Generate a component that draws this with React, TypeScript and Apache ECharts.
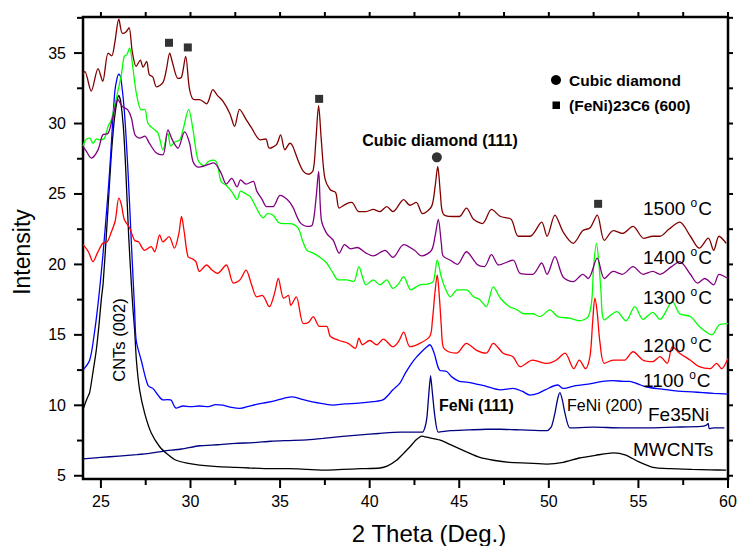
import React, { useEffect, useRef } from "react";
import * as echarts from "echarts";

const FONT = "Arial, 'Liberation Sans', sans-serif";

// axis ranges (2 theta in degrees, intensity in arbitrary units)
const THETA_MIN = 24;
const THETA_MAX = 60;
const INT_MIN = 4.77;
const INT_MAX = 37.56;

// plot box inside the 739 x 546 canvas
const GRID_LEFT = 83;
const GRID_TOP = 17;
const GRID_RIGHT = 11;
const GRID_BOTTOM = 67;
const CANVAS_W = 739;
const CANVAS_H = 546;

const thetaMajor = [25, 30, 35, 40, 45, 50, 55, 60];
const thetaMinor = [27.5, 32.5, 37.5, 42.5, 47.5, 52.5, 57.5];
const intensityMajor = [5, 10, 15, 20, 25, 30, 35];
const intensityMinor = [7.5, 12.5, 17.5, 22.5, 27.5, 32.5, 37.5];

// diffraction patterns: [2 theta, intensity]
const mwcnts = [
  [24.0, 9.7], [24.2, 10.4], [24.37, 10.9], [24.55, 12.3], [24.74, 13.9], [24.9, 15.8], [25.02, 17.5],
  [25.12, 18.6], [25.3, 22.0], [25.56, 27.4], [25.75, 30.3], [25.9, 31.6], [26.0, 32.0], [26.1, 31.6],
  [26.25, 29.8], [26.38, 26.9], [26.55, 22.0], [26.7, 18.6], [26.79, 16.8], [26.88, 15.4], [26.98, 13.2],
  [27.16, 11.1], [27.44, 9.45], [27.81, 8.03], [28.28, 7.06], [28.7, 6.55], [29.2, 6.1], [29.8, 5.9],
  [30.5, 5.76], [31.5, 5.65], [32.5, 5.6], [33.3, 5.55], [34.5, 5.5], [35.5, 5.5], [36.5, 5.45],
  [37.6, 5.4], [38.5, 5.45], [39.5, 5.5], [40.57, 5.55], [41.0, 5.7], [41.5, 6.1], [41.9, 6.6],
  [42.25, 7.06], [42.6, 7.55], [42.9, 7.82], [43.3, 7.7], [43.9, 7.54], [44.6, 7.15], [45.4, 6.7],
  [46.15, 6.3], [46.9, 6.1], [47.8, 5.95], [48.8, 5.9], [49.9, 5.83], [50.8, 5.95], [51.7, 6.26],
  [52.6, 6.45], [53.6, 6.63], [54.3, 6.47], [55.0, 6.0], [55.8, 5.6], [56.8, 5.5], [58.0, 5.45],
  [59.0, 5.42], [59.9, 5.4],
];

const fe35ni = [
  [24.0, 6.2], [25.0, 6.3], [26.0, 6.4], [27.0, 6.5], [27.72, 6.59], [28.5, 6.75], [29.5, 6.9],
  [30.5, 7.13], [31.5, 7.2], [32.5, 7.3], [33.5, 7.35], [34.5, 7.45], [35.5, 7.5], [36.5, 7.55],
  [37.4, 7.65], [38.5, 7.8], [39.5, 7.9], [40.5, 8.0], [41.7, 8.1], [42.5, 8.1], [42.95, 8.1],
  [43.1, 8.5], [43.2, 9.2], [43.3, 10.8], [43.4, 12.1], [43.5, 10.9], [43.64, 9.2], [43.83, 8.1],
  [44.5, 8.2], [45.5, 8.25], [46.5, 8.3], [47.3, 8.3], [48.5, 8.25], [49.9, 8.2], [50.15, 8.5],
  [50.34, 9.45], [50.5, 10.5], [50.62, 10.9], [50.75, 10.4], [50.9, 9.45], [51.18, 8.4], [52.5, 8.45],
  [54.0, 8.4], [55.45, 8.4], [57.0, 8.45], [58.5, 8.5], [58.8, 8.6], [58.9, 8.72], [58.95, 8.35],
  [59.2, 8.4], [59.8, 8.4],
];

const t1100 = [
  [24.0, 12.5], [24.37, 13.2], [24.6, 14.8], [24.84, 17.2], [25.1, 20.5], [25.35, 24.3], [25.5, 26.9],
  [25.77, 32.2], [25.9, 33.2], [26.0, 33.5], [26.1, 33.3], [26.3, 31.0], [26.5, 26.9], [26.7, 21.5],
  [26.88, 16.8], [26.97, 14.6], [27.25, 13.2], [27.63, 11.4], [27.9, 11.2], [28.2, 10.7], [28.46, 10.38],
  [28.7, 10.4], [28.9, 10.38], [29.2, 9.8], [29.6, 9.95], [30.0, 9.9], [30.5, 9.95], [31.0, 9.9],
  [31.4, 10.05], [31.8, 10.02], [32.3, 9.85], [32.76, 9.78], [33.3, 9.95], [33.8, 10.1], [34.25, 10.2],
  [34.8, 10.35], [35.2, 10.5], [35.7, 10.6], [36.3, 10.4], [37.0, 10.2], [37.97, 10.02], [38.6, 10.1],
  [39.4, 10.15], [40.2, 10.26], [40.76, 10.4], [41.3, 11.1], [41.7, 11.6], [42.0, 12.3], [42.34, 12.98],
  [42.6, 13.4], [42.9, 13.8], [43.15, 14.1], [43.36, 14.3], [43.6, 13.7], [43.9, 12.5], [44.3, 12.4],
  [44.6, 12.0], [45.0, 11.7], [45.4, 11.65], [45.8, 11.56], [46.5, 11.35], [47.3, 11.1], [48.0, 11.2],
  [48.5, 11.0], [48.95, 10.73], [49.4, 10.85], [49.8, 11.1], [50.5, 11.44], [50.8, 11.2], [51.5, 11.4],
  [52.2, 11.5], [53.0, 11.7], [53.6, 11.75], [54.15, 11.7], [54.5, 11.7], [55.0, 11.5], [55.45, 11.3],
  [56.3, 11.15], [57.2, 11.0], [58.0, 10.95], [58.6, 10.9], [59.2, 10.85], [60.0, 10.8],
];

const t1200 = [
  [24.0, 21.4], [24.3, 20.9], [24.56, 20.2], [24.8, 20.8], [25.1, 21.5], [25.35, 21.6], [25.58, 22.3],
  [25.8, 23.1], [26.0, 24.7], [26.15, 24.2], [26.3, 23.2], [26.6, 22.6], [26.88, 21.7], [27.1, 21.6],
  [27.44, 21.0], [27.8, 21.26], [28.0, 20.9], [28.28, 22.1], [28.46, 21.6], [28.8, 21.97], [29.1, 21.15],
  [29.35, 22.2], [29.5, 23.4], [29.65, 22.3], [29.86, 20.55], [30.1, 20.4], [30.3, 20.2], [30.5, 19.5],
  [30.9, 19.96], [31.2, 19.6], [31.5, 19.37], [32.0, 19.96], [32.4, 18.67], [32.76, 18.9], [33.1, 19.6],
  [33.4, 18.6], [33.7, 17.7], [34.0, 17.8], [34.4, 17.0], [34.7, 18.0], [34.9, 19.0], [35.2, 17.6],
  [35.46, 17.8], [35.6, 17.1], [35.9, 17.7], [36.3, 15.8], [36.6, 15.9], [36.85, 16.3], [37.2, 15.6],
  [37.6, 15.6], [37.8, 14.9], [38.3, 14.6], [38.8, 14.4], [39.2, 14.05], [39.4, 14.76], [39.6, 14.3],
  [40.0, 14.6], [40.4, 14.3], [40.76, 14.7], [41.3, 14.15], [41.6, 14.5], [41.9, 15.2], [42.25, 14.16],
  [42.8, 14.4], [43.36, 14.9], [43.5, 16.0], [43.64, 17.95], [43.77, 19.25], [43.9, 17.5], [44.0, 15.6],
  [44.1, 14.16], [44.4, 13.8], [44.85, 13.7], [45.4, 14.4], [45.97, 13.9], [46.5, 13.7], [46.9, 14.4],
  [47.45, 13.7], [48.0, 13.45], [48.4, 12.74], [49.1, 13.2], [49.9, 12.98], [50.4, 13.2], [50.9, 13.7],
  [51.4, 12.6], [51.7, 13.2], [52.05, 12.6], [52.3, 13.5], [52.45, 16.0], [52.57, 17.6], [52.7, 16.6],
  [52.85, 14.5], [53.1, 12.98], [53.6, 13.2], [54.2, 13.2], [54.7, 13.8], [55.26, 13.2], [55.8, 13.1],
  [56.2, 13.45], [56.6, 12.98], [56.9, 14.16], [57.3, 13.7], [57.9, 13.2], [58.4, 12.74], [59.0, 12.6],
  [59.36, 12.98], [59.64, 12.6], [60.0, 13.34],
];

const t1300 = [
  [24.0, 28.4], [24.15, 28.84], [24.37, 28.96], [24.56, 28.6], [24.75, 28.9], [24.93, 28.84], [25.2, 28.96],
  [25.4, 29.8], [25.58, 30.26], [25.86, 31.8], [26.14, 33.46], [26.3, 34.76], [26.45, 34.9], [26.6, 35.36],
  [26.8, 33.8], [26.97, 32.2], [27.25, 30.97], [27.45, 31.0], [27.63, 30.0], [28.0, 29.55], [28.2, 29.3],
  [28.46, 28.13], [28.74, 29.3], [28.9, 28.4], [29.15, 28.7], [29.4, 28.84], [29.58, 29.55], [29.9, 31.0],
  [30.14, 29.55], [30.42, 27.4], [30.75, 27.0], [31.0, 27.3], [31.3, 27.4], [31.5, 27.1], [31.7, 25.9],
  [32.0, 25.6], [32.3, 25.17], [32.6, 24.6], [32.8, 25.2], [33.1, 25.0], [33.35, 24.8], [33.6, 24.2],
  [34.06, 23.3], [34.3, 23.6], [34.6, 23.5], [34.9, 23.0], [35.2, 22.9], [35.55, 22.9], [36.0, 22.6],
  [36.25, 21.7], [36.5, 21.0], [36.85, 20.8], [37.3, 20.44], [37.6, 20.1], [37.9, 19.5], [38.25, 18.9],
  [38.7, 18.9], [39.1, 18.78], [39.4, 19.84], [39.6, 19.1], [39.8, 18.55], [40.2, 18.9], [40.57, 18.55],
  [40.95, 18.9], [41.3, 18.3], [41.6, 18.6], [41.9, 19.13], [42.3, 18.2], [42.8, 18.55], [43.2, 18.6],
  [43.55, 18.78], [43.77, 20.3], [44.0, 19.1], [44.25, 18.2], [44.5, 17.7], [44.9, 18.2], [45.4, 18.2],
  [45.8, 17.7], [46.15, 17.5], [46.5, 17.0], [46.9, 18.4], [47.3, 17.6], [47.8, 17.0], [48.2, 16.8],
  [48.6, 16.5], [49.1, 16.5], [49.5, 16.3], [50.06, 16.77], [50.5, 16.3], [51.18, 16.18], [51.7, 16.0],
  [52.2, 16.3], [52.4, 17.5], [52.5, 19.84], [52.66, 21.5], [52.8, 20.0], [52.9, 18.3], [53.1, 16.06],
  [53.8, 16.65], [54.3, 16.0], [54.8, 17.0], [55.26, 16.1], [55.8, 16.6], [56.2, 16.1], [56.9, 17.36],
  [57.3, 16.5], [57.9, 16.3], [58.4, 15.6], [59.1, 15.0], [59.5, 15.7], [60.0, 15.8],
];

const t1400 = [
  [24.0, 28.37], [24.2, 28.0], [24.46, 27.55], [24.84, 28.13], [25.1, 29.2], [25.4, 29.3], [25.67, 30.5],
  [25.95, 31.7], [26.2, 31.2], [26.5, 30.97], [26.7, 30.4], [26.9, 29.2], [27.16, 28.96], [27.45, 29.1],
  [27.7, 28.6], [28.1, 27.9], [28.46, 27.78], [28.74, 29.55], [29.0, 28.8], [29.3, 28.25], [29.67, 29.4],
  [29.95, 28.6], [30.14, 27.3], [30.42, 26.9], [30.9, 27.05], [31.3, 27.2], [31.7, 26.5], [32.0, 25.7],
  [32.3, 26.1], [32.6, 25.5], [32.8, 26.0], [33.1, 25.7], [33.5, 25.9], [33.7, 25.2], [34.0, 24.6],
  [34.25, 24.1], [34.6, 24.1], [35.0, 24.9], [35.4, 24.6], [35.7, 24.1], [36.1, 23.0], [36.5, 22.7],
  [36.8, 22.8], [37.0, 24.6], [37.15, 26.6], [37.3, 23.2], [37.6, 22.2], [37.97, 21.7], [38.3, 20.8],
  [38.6, 21.4], [38.95, 21.1], [39.3, 21.2], [39.8, 20.8], [40.2, 20.6], [40.85, 21.0], [41.3, 20.5],
  [41.9, 21.4], [42.5, 21.0], [42.9, 20.6], [43.45, 21.0], [43.65, 22.0], [43.83, 23.2], [44.0, 21.5],
  [44.1, 20.6], [44.5, 20.3], [44.9, 20.0], [45.4, 20.9], [46.0, 20.0], [46.4, 19.84], [46.8, 20.7],
  [47.2, 19.96], [48.0, 20.3], [48.4, 19.37], [49.1, 19.3], [49.6, 20.1], [49.9, 19.3], [50.34, 20.55],
  [50.8, 19.1], [51.36, 18.78], [51.9, 19.3], [52.2, 19.0], [52.7, 20.44], [53.1, 19.0], [53.6, 19.5],
  [54.1, 19.3], [54.7, 19.84], [55.26, 19.3], [55.8, 19.5], [56.2, 19.3], [56.85, 19.84], [57.3, 20.2],
  [57.9, 19.3], [58.3, 18.67], [58.7, 19.0], [59.2, 18.55], [59.5, 19.3], [60.0, 19.0],
];

const t1500 = [
  [24.0, 33.5], [24.1, 33.7], [24.46, 32.3], [24.84, 33.9], [25.1, 33.0], [25.4, 35.0], [25.6, 34.8],
  [25.77, 35.7], [26.0, 37.4], [26.2, 36.4], [26.4, 36.5], [26.57, 36.8], [26.75, 35.1], [26.97, 34.05],
  [27.2, 34.5], [27.35, 34.0], [27.55, 34.4], [27.7, 33.46], [27.9, 33.3], [28.1, 32.6], [28.46, 32.9],
  [28.65, 33.8], [28.84, 35.0], [29.0, 34.3], [29.3, 33.2], [29.5, 33.3], [29.73, 34.76], [29.95, 32.4],
  [30.2, 31.7], [30.5, 31.7], [30.9, 31.4], [31.25, 32.4], [31.5, 32.0], [31.8, 31.6], [32.2, 30.7],
  [32.46, 29.8], [32.74, 31.0], [33.1, 30.3], [33.4, 29.7], [33.9, 28.84], [34.2, 28.9], [34.4, 28.25],
  [34.8, 28.5], [35.03, 29.2], [35.27, 28.13], [35.55, 28.6], [35.7, 28.4], [36.0, 27.4], [36.3, 26.6],
  [36.6, 26.4], [36.85, 26.7], [37.0, 28.84], [37.15, 31.26], [37.3, 28.84], [37.5, 26.1], [37.8, 25.3],
  [38.1, 25.1], [38.3, 24.0], [38.7, 24.3], [39.0, 24.4], [39.4, 23.75], [39.8, 23.75], [40.2, 23.9],
  [40.57, 23.75], [40.95, 24.1], [41.3, 23.75], [41.9, 24.6], [42.25, 24.2], [42.6, 24.4], [42.95, 23.6],
  [43.45, 24.1], [43.65, 25.5], [43.8, 26.95], [43.95, 25.0], [44.1, 23.6], [44.6, 23.4], [45.0, 23.4],
  [45.4, 24.0], [45.8, 23.2], [46.3, 22.9], [46.8, 23.9], [47.3, 23.4], [47.9, 23.2], [48.3, 22.0],
  [48.95, 22.0], [49.6, 23.0], [49.9, 22.0], [50.34, 23.5], [50.8, 22.3], [51.36, 21.5], [51.9, 22.4],
  [52.3, 22.6], [52.7, 23.5], [53.1, 21.7], [53.6, 22.4], [54.1, 22.2], [54.7, 22.7], [55.3, 21.85],
  [55.8, 22.0], [56.2, 22.0], [56.7, 22.5], [57.3, 23.0], [57.9, 22.0], [58.4, 21.15], [58.9, 21.86],
  [59.2, 21.0], [59.5, 22.0], [59.9, 21.5],
];

// phase reflections marked above the peaks
const carbidePeaks = [[28.8, 35.73], [29.85, 35.4], [37.18, 31.75], [52.75, 24.3]];
const diamondPeaks = [[43.75, 27.6]];

const traces = [
  { name: "MWCNTs", color: "#000000", data: mwcnts, smooth: 0.2 },
  { name: "Fe35Ni", color: "#000080", data: fe35ni, smooth: 0.2 },
  { name: "1100 °C", color: "#0000ff", data: t1100, smooth: 0.3 },
  { name: "1200 °C", color: "#ff0000", data: t1200, smooth: 0.3 },
  { name: "1300 °C", color: "#00ff00", data: t1300, smooth: 0.3 },
  { name: "1400 °C", color: "#800080", data: t1400, smooth: 0.3 },
  { name: "1500 °C", color: "#800000", data: t1500, smooth: 0.3 },
];

const tempLabels = [
  { t: "1500", y: 208 },
  { t: "1400", y: 257 },
  { t: "1300", y: 297 },
  { t: "1200", y: 345 },
  { t: "1100", y: 380 },
];

// frame tick marks: [value, side, length]; side 0 bottom, 1 top, 2 left, 3 right
const SIDE_BOTTOM = 0, SIDE_TOP = 1, SIDE_LEFT = 2, SIDE_RIGHT = 3;
const frameTicks = [
  ...thetaMajor.map((v) => [v, SIDE_BOTTOM, 9]),
  ...thetaMinor.map((v) => [v, SIDE_BOTTOM, 6]),
  ...thetaMajor.map((v) => [v, SIDE_TOP, 5]),
  ...thetaMinor.map((v) => [v, SIDE_TOP, 5]),
  ...intensityMajor.map((v) => [v, SIDE_LEFT, 9]),
  ...intensityMinor.map((v) => [v, SIDE_LEFT, 6]),
  ...intensityMajor.map((v) => [v, SIDE_RIGHT, 5]),
  ...intensityMinor.map((v) => [v, SIDE_RIGHT, 5]),
];
const TICK_W = 2;

const txt = (x: number, y: number, text: string, size: number, extra: any = {}) => ({
  type: "text",
  x, y, z: 10,
  style: {
    text, fontSize: size, fontFamily: FONT, fill: "#000",
    verticalAlign: "middle", align: "left", ...extra,
  },
});

function annotationGraphics() {
  const g: any[] = [
    // axis titles
    { ...txt(22, 252, "Intensity", 23, { align: "center" }), rotation: Math.PI / 2 },
    txt(429, 533, "2 Theta (Deg.)", 24, { align: "center" }),
    // peak annotations
    txt(440, 140, "Cubic diamond (111)", 16, { align: "center", fontWeight: "bold" }),
    txt(439, 405, "FeNi (111)", 16, { fontWeight: "bold" }),
    txt(567, 405, "FeNi (200)", 16),
    { ...txt(119, 340, "CNTs (002)", 16.5, { align: "center" }), rotation: Math.PI / 2 },
    // sample names
    txt(648, 414, "Fe35Ni", 19),
    txt(633, 449, "MWCNTs", 19),
    // symbol key
    { type: "circle", shape: { cx: 556, cy: 80, r: 5 }, style: { fill: "#000" }, z: 10 },
    txt(569, 80, "Cubic diamond", 15.5, { fontWeight: "bold" }),
    { type: "rect", shape: { x: 552.5, y: 101.5, width: 7.5, height: 7.5 }, style: { fill: "#000" }, z: 10 },
    txt(569, 105, "(FeNi)23C6 (600)", 15.5, { fontWeight: "bold" }),
  ];
  tempLabels.forEach((l) => {
    g.push({
      type: "text",
      x: 643, y: l.y, z: 10,
      style: {
        text: `{n|${l.t} }{s|o}{n|C}`,
        verticalAlign: "middle",
        align: "left",
        rich: {
          n: { fontSize: 19, fontFamily: FONT, fill: "#000", lineHeight: 22 },
          s: { fontSize: 12, fontFamily: FONT, fill: "#000", lineHeight: 22, verticalAlign: "top", padding: [0, 1, 0, 0] },
        },
      },
    });
  });
  return g;
}

// value -> pixel through the chart; the plot box mapping is the backup
function toPixel(chart: any, pt: number[]) {
  let p: any = null;
  try {
    p = chart.convertToPixel({ seriesIndex: 0 }, pt);
  } catch (e) {
    p = null;
  }
  if (!p || !Number.isFinite(p[0]) || !Number.isFinite(p[1])) {
    const w = CANVAS_W - GRID_LEFT - GRID_RIGHT;
    const h = CANVAS_H - GRID_TOP - GRID_BOTTOM;
    p = [
      GRID_LEFT + ((pt[0] - THETA_MIN) / (THETA_MAX - THETA_MIN)) * w,
      GRID_TOP + ((INT_MAX - pt[1]) / (INT_MAX - INT_MIN)) * h,
    ];
  }
  return p;
}

function axisGraphics(chart: any) {
  const out: any[] = [];
  frameTicks.forEach(([v, side, len]) => {
    const onX = side === SIDE_BOTTOM || side === SIDE_TOP;
    const point = onX
      ? [v, side === SIDE_BOTTOM ? INT_MIN : INT_MAX]
      : [side === SIDE_LEFT ? THETA_MIN : THETA_MAX, v];
    const p = toPixel(chart, point);
    let shape;
    if (side === SIDE_BOTTOM) shape = { x: p[0] - TICK_W / 2, y: p[1], width: TICK_W, height: len };
    else if (side === SIDE_TOP) shape = { x: p[0] - TICK_W / 2, y: p[1] - len, width: TICK_W, height: len };
    else if (side === SIDE_LEFT) shape = { x: p[0] - len, y: p[1] - TICK_W / 2, width: len, height: TICK_W };
    else shape = { x: p[0], y: p[1] - TICK_W / 2, width: len, height: TICK_W };
    out.push({ type: "rect", z: 12, shape, style: { fill: "#000" } });
  });
  thetaMajor.forEach((v) => {
    const p = toPixel(chart, [v, INT_MIN]);
    out.push(txt(p[0], p[1] + 14, String(v), 16, { align: "center", verticalAlign: "top" }));
  });
  intensityMajor.forEach((v) => {
    const p = toPixel(chart, [THETA_MIN, v]);
    out.push(txt(p[0] - 17, p[1], String(v), 16, { align: "right" }));
  });
  return out;
}

function buildOption() {
  const xAxis = {
    type: "value", min: THETA_MIN, max: THETA_MAX, position: "bottom",
    splitLine: { show: false },
    axisLine: { show: false },
    axisTick: { show: false },
    axisLabel: { show: false },
  };
  const yAxis = {
    type: "value", min: INT_MIN, max: INT_MAX, position: "left",
    splitLine: { show: false },
    axisLine: { show: false },
    axisTick: { show: false },
    axisLabel: { show: false },
  };

  const lineSeries = traces.map((tr) => ({
    name: tr.name,
    type: "line",
    data: tr.data,
    showSymbol: false,
    symbol: "none",
    smooth: tr.smooth,
    lineStyle: { color: tr.color, width: 1.3 },
    z: 2,
  }));

  const markerSeries = [
    {
      name: "(FeNi)23C6 (600)", type: "scatter",
      data: carbidePeaks, symbol: "rect", symbolSize: 8,
      itemStyle: { color: "#000" }, z: 5,
    },
    {
      name: "Cubic diamond", type: "scatter",
      data: diamondPeaks, symbol: "circle", symbolSize: 10,
      itemStyle: { color: "#000" }, z: 5,
    },
  ];

  return {
    animation: false,
    backgroundColor: "#fff",
    grid: {
      left: GRID_LEFT, right: GRID_RIGHT, top: GRID_TOP, bottom: GRID_BOTTOM, containLabel: false,
      show: true, borderColor: "#000", borderWidth: 2.5, backgroundColor: "transparent",
    },
    xAxis,
    yAxis,
    series: [...lineSeries, ...markerSeries],
  };
}

export default function App() {
  const ref = useRef<HTMLDivElement | null>(null);

  useEffect(() => {
    document.body.style.margin = "0";
    if (!ref.current) return;
    const chart = echarts.init(ref.current, null, { renderer: "svg" });
    chart.setOption(buildOption() as any);
    chart.setOption({ graphic: { elements: [...annotationGraphics(), ...axisGraphics(chart)] } } as any);
    return () => chart.dispose();
  }, []);

  return <div ref={ref} style={{ width: CANVAS_W, height: CANVAS_H }} />;
}
